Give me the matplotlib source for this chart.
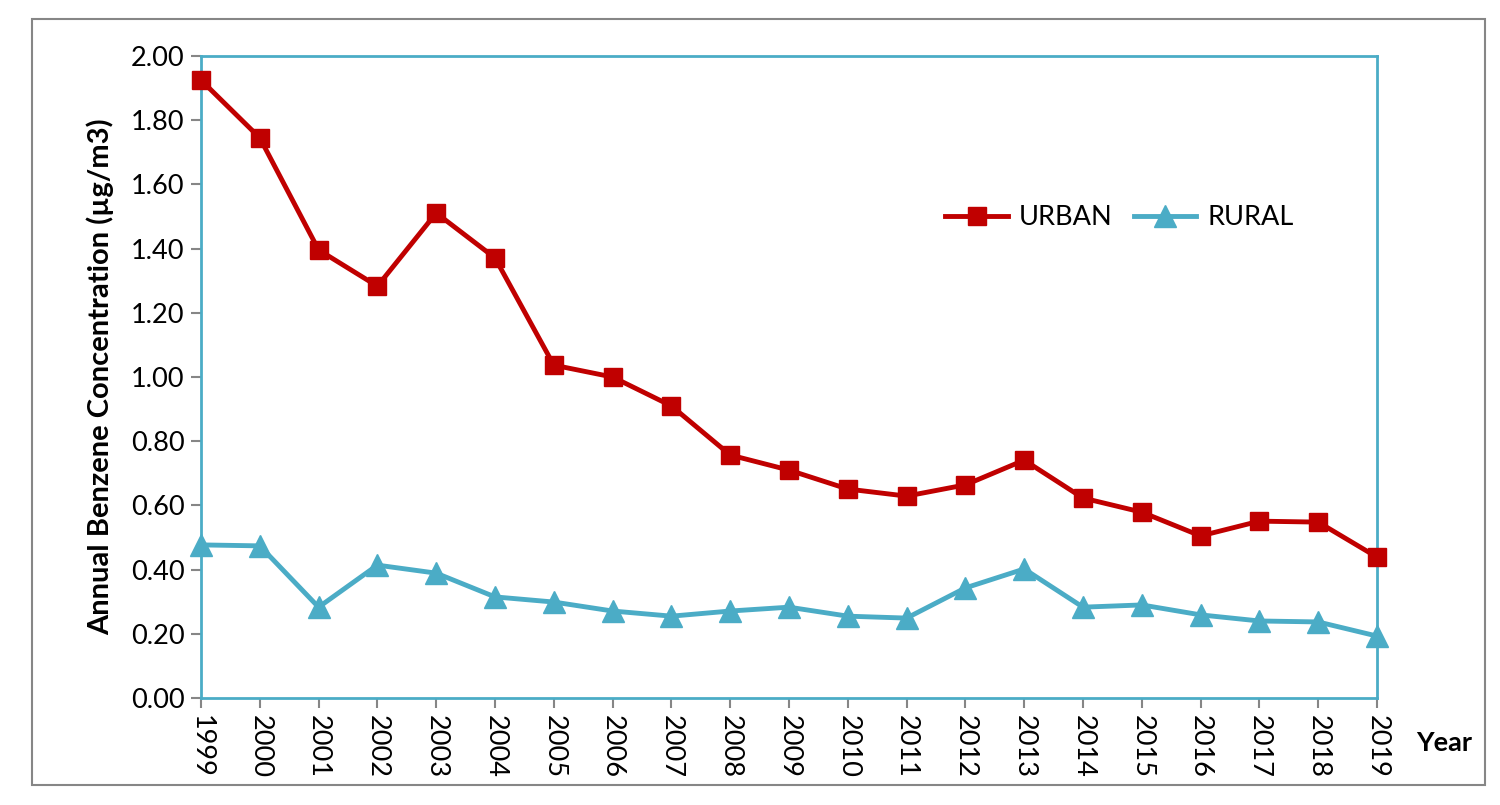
import matplotlib.pyplot as plt
from matplotlib.patches import Rectangle

plt.rcParams["font.family"] = "Lato"

# ============================================================
# Data
# ============================================================

years = list(range(1999, 2020))

urban = [1.925, 1.745, 1.396, 1.283, 1.511, 1.371, 1.037, 1.000, 0.910, 0.757,
         0.710, 0.651, 0.629, 0.664, 0.741, 0.623, 0.579, 0.505, 0.551, 0.548, 0.439]

rural = [0.477, 0.474, 0.283, 0.414, 0.389, 0.315, 0.299, 0.271, 0.255, 0.271,
         0.283, 0.255, 0.249, 0.343, 0.402, 0.283, 0.290, 0.259, 0.240, 0.237, 0.193]

yticks = [0.0, 0.2, 0.4, 0.6, 0.8, 1.0, 1.2, 1.4, 1.6, 1.8, 2.0]

red = "#C00000"
teal = "#4BACC6"
gray = "#868686"

# ============================================================
# Plot
# ============================================================

fig = plt.figure(figsize=(15, 8.05), dpi=100)
ax = fig.add_axes([0.134, 0.1329, 0.784, 0.7975])

ax.plot(years, urban, color=red, linewidth=3.5, marker="s", markersize=13,
        label="URBAN", clip_on=False, zorder=3)
ax.plot(years, rural, color=teal, linewidth=3.5, marker="^", markersize=16,
        label="RURAL", clip_on=False, zorder=3)

ax.set_xlim(1999, 2019)
ax.set_ylim(0, 2.0)
ax.set_xticks(years)
ax.set_xticklabels([str(y) for y in years], rotation=-90, fontsize=19.5)
ax.set_yticks(yticks)
ax.set_yticklabels([f"{v:.2f}" for v in yticks], fontsize=19.5)

for side in ["top", "right", "left", "bottom"]:
    ax.spines[side].set_color(teal)
    ax.spines[side].set_linewidth(2)

ax.tick_params(axis="both", direction="out", length=7, width=1.5, color=gray, pad=5)

ax.set_ylabel("Annual Benzene Concentration (µg/m3)", fontsize=21, fontweight="bold",
              labelpad=12)
fig.text(0.963, 0.077, "Year", fontsize=19.5, fontweight="bold", ha="center", va="center")

ax.legend(loc="center", bbox_to_anchor=(0.781, 0.748), ncol=2, frameon=False,
          fontsize=19.5, handlelength=2.3, columnspacing=0.8, handletextpad=0.4)

# outer chart border
fig.patches.append(Rectangle((0.021, 0.025), 0.969, 0.951, transform=fig.transFigure,
                             fill=False, edgecolor=gray, linewidth=1.5))

plt.savefig("out.png", dpi=100)
